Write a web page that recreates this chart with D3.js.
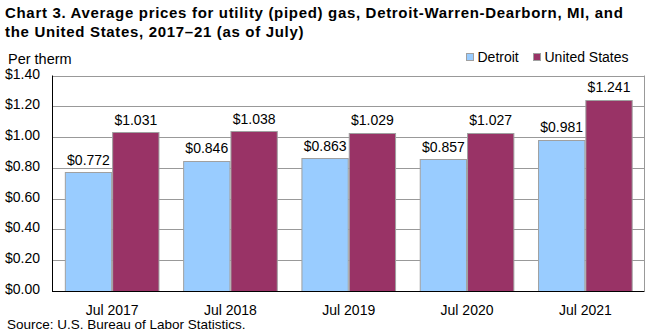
<!DOCTYPE html>
<html>
<head>
<meta charset="utf-8">
<script src="https://cdn.jsdelivr.net/npm/d3@7"></script>
<style>
  body { margin: 0; background: #fff; }
  svg { font-family: "Liberation Sans", Arial, sans-serif; }
</style>
</head>
<body>
<div id="root"></div>
<script>
const years = ["Jul 2017", "Jul 2018", "Jul 2019", "Jul 2020", "Jul 2021"];
const detroit = [0.772, 0.846, 0.863, 0.857, 0.981];
const unitedStates = [1.031, 1.038, 1.029, 1.027, 1.241];
const yTicks = [0, 0.2, 0.4, 0.6, 0.8, 1.0, 1.2, 1.4];
const seriesNames = ["Detroit", "United States"];
const seriesColors = ["#99ccff", "#993366"];

const width = 660, height = 334;
const margin = { top: 75.5, right: 15.5, bottom: 43, left: 53 };

const svg = d3.select("#root")
    .append("svg")
    .attr("width", width)
    .attr("height", height);

// title
const title = svg.append("text")
    .attr("font-weight", "bold")
    .attr("font-size", 15)
    .attr("letter-spacing", 0.68)
    .attr("fill", "#000");
title.append("tspan").attr("x", 5).attr("y", 18)
    .text("Chart 3. Average prices for utility (piped) gas, Detroit-Warren-Dearborn, MI, and");
title.append("tspan").attr("x", 5).attr("y", 37)
    .text("the United States, 2017\u201321 (as of July)");

svg.append("text")
    .attr("x", 8).attr("y", 64)
    .attr("font-size", 14.5)
    .text("Per therm");

const x = d3.scaleBand()
    .domain(years)
    .range([margin.left, width - margin.right])
    .paddingInner(0.2)
    .paddingOuter(0.1);

const x1 = d3.scaleBand()
    .domain(seriesNames)
    .range([0, x.bandwidth()]);

const y = d3.scaleLinear()
    .domain([0, 1.4])
    .range([height - margin.bottom, margin.top]);

// gridlines
svg.append("g")
    .selectAll("line")
    .data(yTicks.slice(1))
    .join("line")
    .attr("x1", margin.left)
    .attr("x2", width - margin.right)
    .attr("y1", d => Math.round(y(d)) + 0.5)
    .attr("y2", d => Math.round(y(d)) + 0.5)
    .attr("stroke", "#999")
    .attr("stroke-width", 1);

// right border
svg.append("line")
    .attr("x1", width - margin.right).attr("x2", width - margin.right)
    .attr("y1", y(1.4)).attr("y2", y(0))
    .attr("stroke", "#999");

// y labels
svg.append("g")
    .selectAll("text")
    .data(yTicks)
    .join("text")
    .attr("x", 40)
    .attr("y", d => y(d) + 3)
    .attr("text-anchor", "end")
    .attr("font-size", 14)
    .text(d => "$" + d.toFixed(2));

const rows = years.map((yr, i) => ({ year: yr, values: [detroit[i], unitedStates[i]] }));

const groups = svg.append("g")
    .selectAll("g")
    .data(rows)
    .join("g")
    .attr("transform", d => `translate(${x(d.year)},0)`);

groups.selectAll("rect")
    .data(d => d.values.map((v, j) => ({ name: seriesNames[j], value: v, j })))
    .join("rect")
    .attr("x", d => x1(d.name) + 0.5)
    .attr("y", d => Math.round(y(d.value)) + 0.5)
    .attr("width", x1.bandwidth() - 1)
    .attr("height", d => Math.round(y(0)) - Math.round(y(d.value)))
    .attr("fill", d => seriesColors[d.j])
    .attr("stroke", "#a0a0a0")
    .attr("stroke-width", 1);

groups.selectAll("text")
    .data(d => d.values.map((v, j) => ({ name: seriesNames[j], value: v })))
    .join("text")
    .attr("x", d => x1(d.name) + x1.bandwidth() / 2)
    .attr("y", d => y(d.value) - 7.5)
    .attr("text-anchor", "middle")
    .attr("font-size", 14)
    .text(d => "$" + d.value.toFixed(3));

// axes
svg.append("line")
    .attr("x1", margin.left - 0.5).attr("x2", margin.left - 0.5)
    .attr("y1", y(1.4)).attr("y2", y(0) + 0.5)
    .attr("stroke", "#000");
svg.append("line")
    .attr("x1", margin.left - 1).attr("x2", width - margin.right)
    .attr("y1", Math.round(y(0)) + 0.5).attr("y2", Math.round(y(0)) + 0.5)
    .attr("stroke", "#000");

// x labels
svg.append("g")
    .selectAll("text")
    .data(years)
    .join("text")
    .attr("x", d => x(d) + x.bandwidth() / 2)
    .attr("y", 315)
    .attr("text-anchor", "middle")
    .attr("font-size", 14)
    .text(d => d);

// legend
const legend = svg.append("g");
const legendX = [466, 533];
seriesNames.forEach((name, i) => {
    legend.append("rect")
        .attr("x", legendX[i] + 0.5).attr("y", 53.5)
        .attr("width", 7).attr("height", 7)
        .attr("fill", seriesColors[i])
        .attr("stroke", "#a0a0a0");
    legend.append("text")
        .attr("x", legendX[i] + 11.5).attr("y", 62)
        .attr("font-size", 14)
        .text(name);
});

svg.append("text")
    .attr("x", 7).attr("y", 329)
    .attr("font-size", 13.5)
    .text("Source: U.S. Bureau of Labor Statistics.");
</script>
</body>
</html>
